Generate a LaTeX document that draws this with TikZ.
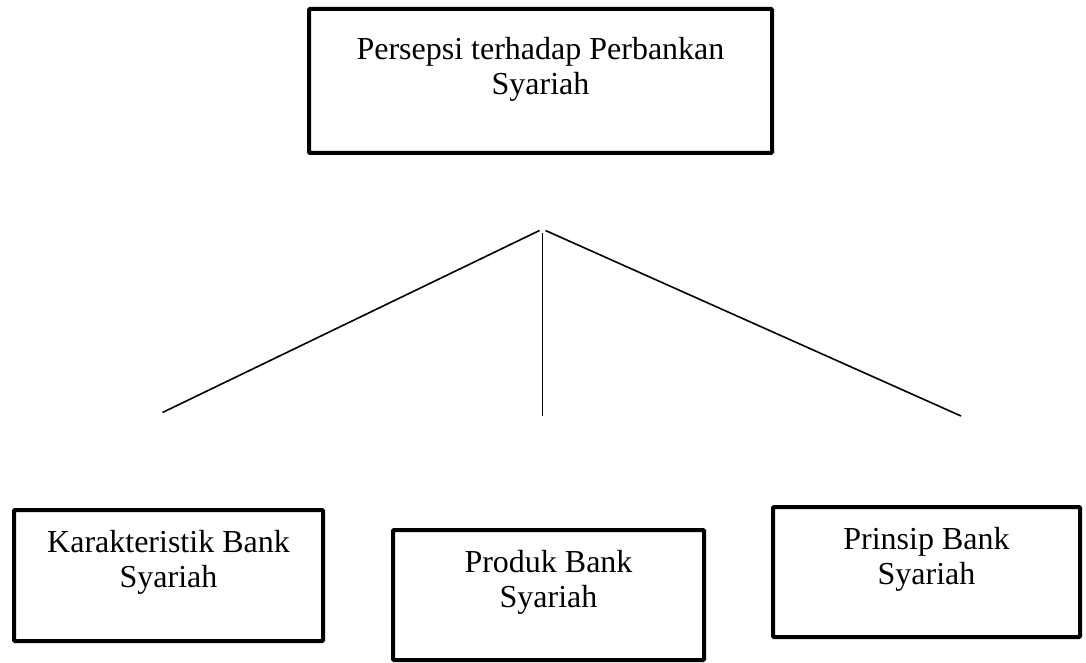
\documentclass[tikz,border=0pt]{standalone}
\usepackage{fontspec}
\setmainfont{Liberation Serif}
\begin{document}
\begin{tikzpicture}[x=1pt,y=-1pt,
  box/.style={draw=black, line width=4pt, rectangle, inner sep=0pt, outer sep=0pt, rounded corners=1pt},
  conn/.style={draw=black, line width=1.6pt}]
\useasboundingbox (0,0) rectangle (1086,663);
\newcommand{\boxtext}[4]{\parbox[c][#2pt][t]{#1pt}{\centering\fontsize{32}{35}\selectfont\rule{0pt}{#3pt}#4}}
% boxes
\node[box, anchor=north west] (top) at (309,9) {\boxtext{463}{144}{51}{Persepsi terhadap Perbankan\\Syariah}};
\node[box, anchor=north west] (kar) at (14,510) {\boxtext{309}{131}{42}{Karakteristik Bank\\Syariah}};
\node[box, anchor=north west] (prod) at (393,530) {\boxtext{311}{130}{42}{Produk Bank\\Syariah}};
\node[box, anchor=north west] (prin) at (773,507) {\boxtext{307}{130}{42}{Prinsip Bank\\Syariah}};
% connector end points
\coordinate (jl) at (539.5,230.5);
\coordinate (jm) at (542.3,233);
\coordinate (jr) at (545.5,230.5);
\coordinate (el) at (162.5,412.5);
\coordinate (em) at (542.3,416);
\coordinate (er) at (961,416);
\draw[conn] (jl) -- (el);
\draw[conn] (jm) -- (em);
\draw[conn] (jr) -- (er);
\end{tikzpicture}
\end{document}
